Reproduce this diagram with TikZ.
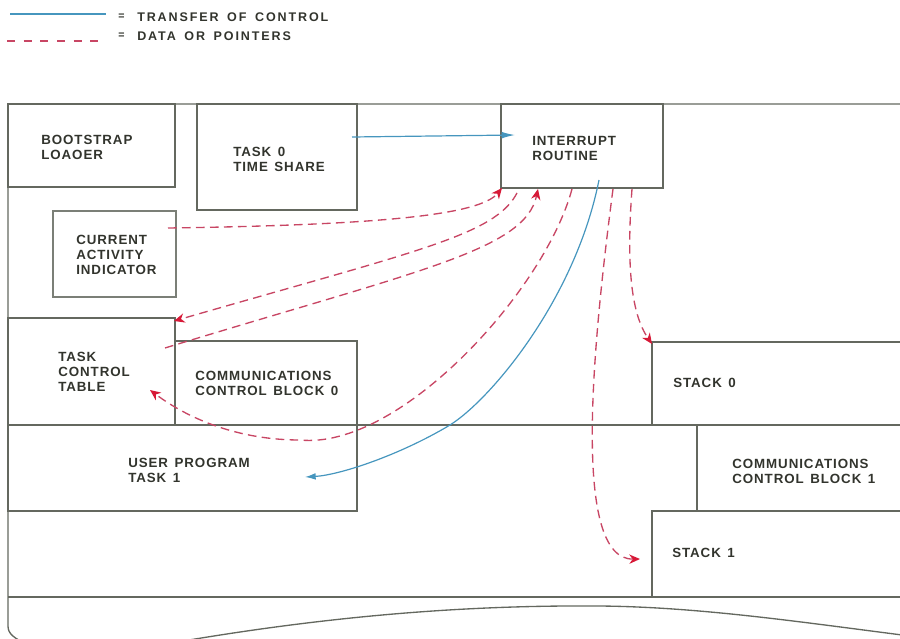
\documentclass[tikz,border=0pt]{standalone}
\usepackage{fontspec}
\usetikzlibrary{arrows.meta}
\newfontfamily\boxfont{Liberation Sans}[LetterSpace=7,WordSpace=1.4]
\newfontfamily\keyfont{Liberation Sans}[LetterSpace=15,WordSpace=1.6]
\definecolor{boxline}{RGB}{100,104,95}
\definecolor{ctrlblue}{RGB}{70,150,190}
\definecolor{datared}{RGB}{200,70,100}
\definecolor{tipred}{RGB}{215,25,55}
\definecolor{textcol}{RGB}{50,52,45}
\tikzset{
  frame/.style={draw=boxline, line width=1pt},
  ctrl/.style={draw=ctrlblue, line width=0.9pt},
  data/.style={draw=datared, line width=1pt, dash pattern=on 6.5pt off 4pt},
  datatip/.style={-{Stealth[length=8pt,width=7pt,inset=2.5pt,color=tipred]}},
  lbl/.style={anchor=west, inner sep=0pt, align=left, text=textcol,
    font=\boxfont\bfseries\fontsize{10}{11.25}\selectfont},
  keylbl/.style={anchor=west, inner sep=0pt, text=textcol,
    font=\keyfont\bfseries\fontsize{9.4}{11}\selectfont}
}
\begin{document}
\begin{tikzpicture}[x=0.75pt,y=-0.75pt]
    \useasboundingbox (0,0) rectangle (900,639);
    \clip (0,0) rectangle (900,639);
    % key
    \draw[ctrl] (10,14) -- (106,14);
    \draw[data, dash pattern=on 6pt off 6.5pt] (7,41) -- (104,41);
    \node (eqa) [keylbl, font=\keyfont\bfseries\fontsize{8}{9}\selectfont] at (118,17) {=};
    \node (eqb) [keylbl, font=\keyfont\bfseries\fontsize{8}{9}\selectfont] at (118,36) {=};
    \node (keyctrl) [keylbl] at (137,17) {TRANSFER OF CONTROL};
    \node (keydata) [keylbl] at (137,36) {DATA OR POINTERS};
    % memory map
    \draw[frame] (905,104) -- (8,104) -- (8,626) .. controls (8,634) and (14,638) .. (28,645);
    \draw[frame] (160,645) .. controls (330,615) and (470,605) .. (600,606)
                 .. controls (700,607) and (800,622) .. (910,636);
    \draw[frame] (8,425) -- (905,425);
    \draw[frame] (8,597) -- (905,597);
    \draw[frame] (8,104) rectangle (175,187);
    \draw[frame] (197,104) rectangle (357,210);
    \draw[frame] (501,104) rectangle (663,188);
    \draw[frame, line width=1.4pt, draw=boxline!85] (53,211) rectangle (176,297);
    \draw[frame] (8,318) rectangle (175,425);
    \draw[frame] (175,341) rectangle (357,425);
    \draw[frame] (8,425) rectangle (357,511);
    \draw[frame] (652,342) rectangle (905,425);
    \draw[frame] (697,425) rectangle (905,511);
    \draw[frame] (652,511) rectangle (905,597);
    \node (boot) [lbl] at (41,147.5) {BOOTSTRAP\\LOAOER};
    \node (task0) [lbl] at (233,159) {TASK 0\\TIME SHARE};
    \node (cai) [lbl] at (76,255) {CURRENT\\ACTIVITY\\INDICATOR};
    \node (intr) [lbl] at (532,148.5) {INTERRUPT\\ROUTINE};
    \node (tct) [lbl] at (58,372) {TASK\\CONTROL\\TABLE};
    \node (ccb0) [lbl] at (195,383.5) {COMMUNICATIONS\\CONTROL BLOCK 0};
    \node (user) [lbl] at (128,470) {USER PROGRAM\\TASK 1};
    \node (stack0) [lbl] at (673,383) {STACK 0};
    \node (ccb1) [lbl] at (732,471) {COMMUNICATIONS\\CONTROL BLOCK 1};
    \node (stack1) [lbl] at (672,553) {STACK 1};
    % connector ends
    \coordinate (task0out) at (352,137);
    \coordinate (intrin) at (515,135);
    \coordinate (introut) at (599,180);
    \coordinate (userin) at (305,477);
    \coordinate (caiout) at (168,228);
    \coordinate (intra) at (502,188);
    \coordinate (intrb) at (517,193);
    \coordinate (tcta) at (174,321);
    \coordinate (tctb) at (165,348);
    \coordinate (intrc) at (538,189);
    \coordinate (intrd) at (572,189);
    \coordinate (tctc) at (150,390);
    \coordinate (intre) at (613,189);
    \coordinate (stack1in) at (640,559);
    \coordinate (intrf) at (632,189);
    \coordinate (stack0in) at (652,344);
    % transfer of control
    \draw[ctrl, -{Latex[length=10pt,width=5pt]}] (task0out) -- (intrin);
    \draw[ctrl, -{Latex[length=8pt,width=5pt]}] (introut) .. controls (575,300) and (490,400) .. (450,425)
        .. controls (400,455) and (340,475) .. (userin);
    % data or pointers
    \draw[data, datatip] (caiout) .. controls (380,225) and (480,215) .. (intra);
    \draw[data, datatip] (intrb) .. controls (495,235) and (420,250) .. (tcta);
    \draw[data, datatip] (tctb) .. controls (420,270) and (525,250) .. (intrc);
    \draw[data, datatip] (intrd) .. controls (545,290) and (400,450) .. (300,440)
        .. controls (240,440) and (190,420) .. (tctc);
    \draw[data, datatip] (intre) .. controls (592,350) and (572,560) .. (stack1in);
    \draw[data, datatip] (intrf) .. controls (626,270) and (632,315) .. (stack0in);
\end{tikzpicture}
\end{document}
